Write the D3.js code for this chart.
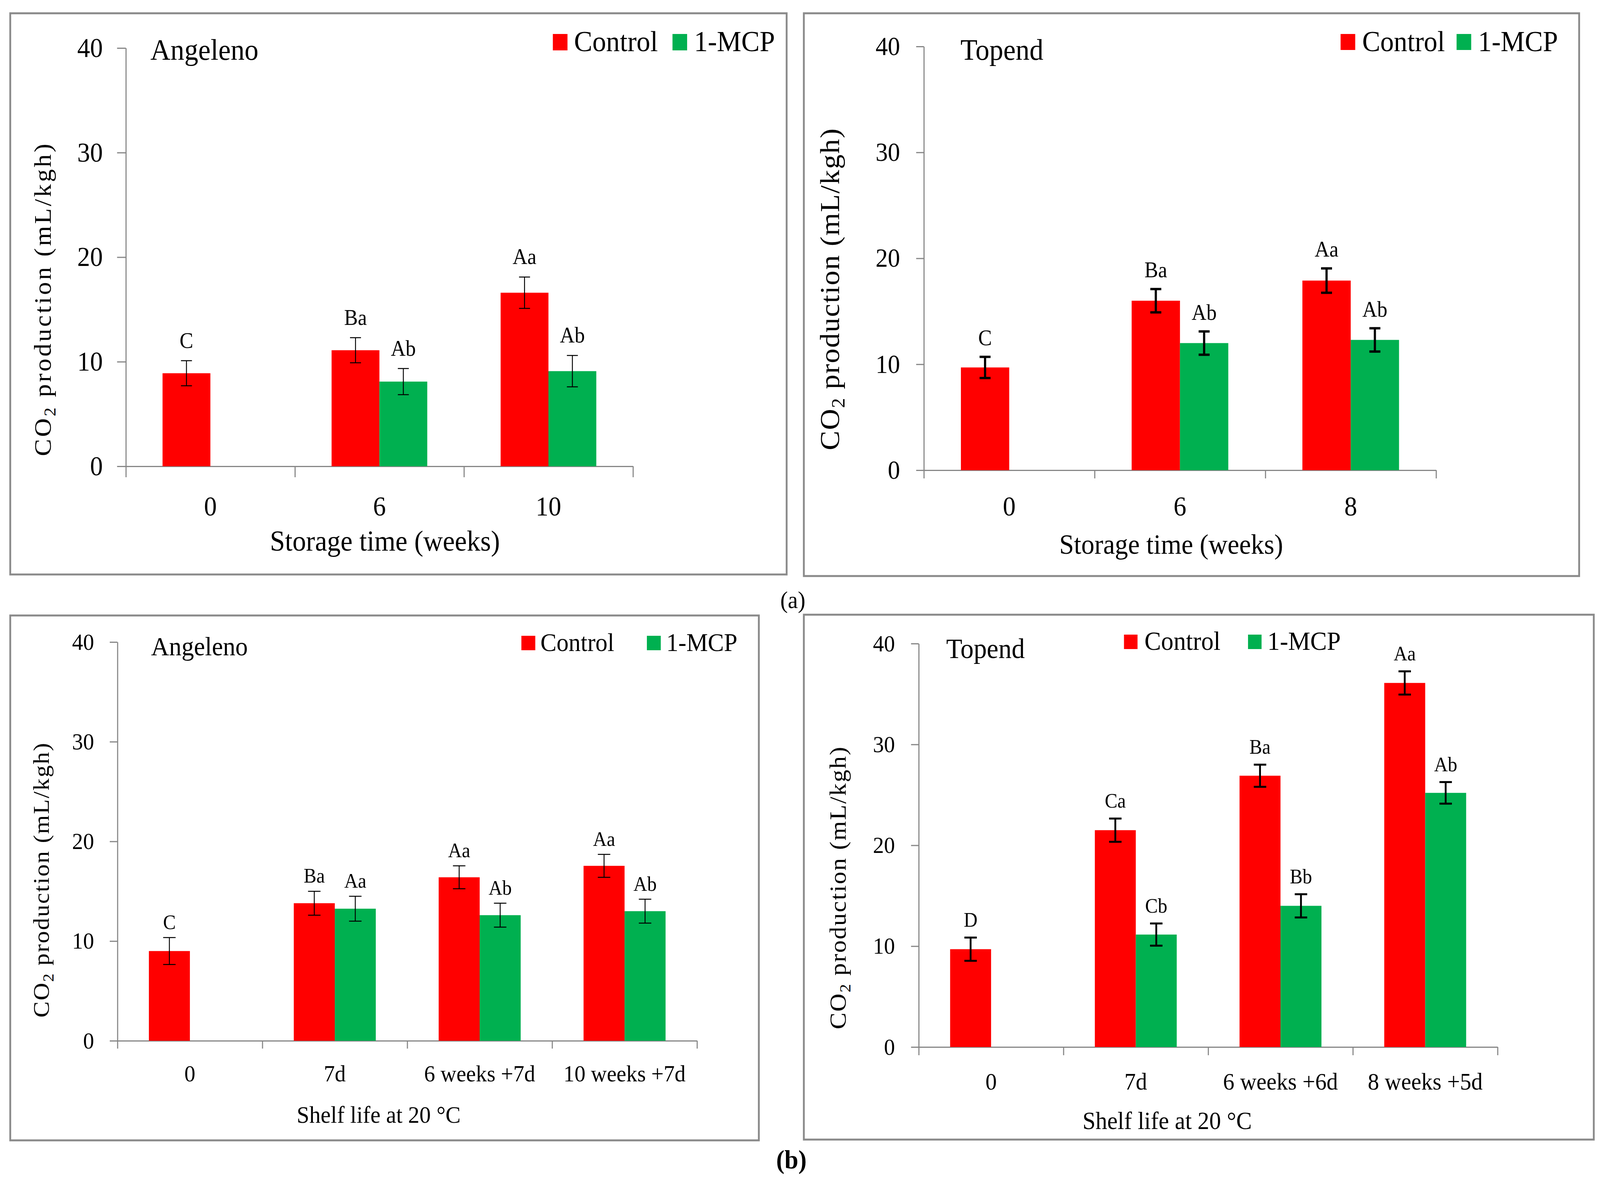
<!DOCTYPE html>
<html>
<head>
<meta charset="utf-8">
<script src="https://d3js.org/d3.v7.min.js"></script>
<style>
  html, body { margin: 0; padding: 0; background: #fff; overflow: hidden; }
  svg { display: block; width: 100vw; height: 100vh; }
</style>
</head>
<body>
<svg id="chart" viewBox="0 0 4373 3042" preserveAspectRatio="none"></svg>
<script>
const FONT = "'Liberation Serif', 'Times New Roman', serif";

const seriesNames = ["Control", "1-MCP"];
const seriesColors = ["#ff0000", "#00b050"];
const yTicks = [0, 10, 20, 30, 40];

// (a) storage, Angeleno
const catsA1 = ["0", "6", "10"];
const ctrlA1 = [8.9, 11.1, 16.6];
const ctrlErrA1 = [1.2, 1.2, 1.5];
const mcpA1 = [null, 8.1, 9.1];
const mcpErrA1 = [null, 1.25, 1.5];
const ctrlLabA1 = ["C", "Ba", "Aa"];
const mcpLabA1 = [null, "Ab", "Ab"];

// (a) storage, Topend
const catsA2 = ["0", "6", "8"];
const ctrlA2 = [9.7, 16.0, 17.9];
const ctrlErrA2 = [1.0, 1.1, 1.15];
const mcpA2 = [null, 12.0, 12.3];
const mcpErrA2 = [null, 1.1, 1.1];
const ctrlLabA2 = ["C", "Ba", "Aa"];
const mcpLabA2 = [null, "Ab", "Ab"];

// (b) shelf life, Angeleno
const catsB1 = ["0", "7d", "6 weeks +7d", "10 weeks +7d"];
const ctrlB1 = [9.0, 13.8, 16.4, 17.55];
const ctrlErrB1 = [1.35, 1.2, 1.15, 1.15];
const mcpB1 = [null, 13.25, 12.6, 13.0];
const mcpErrB1 = [null, 1.25, 1.2, 1.2];
const ctrlLabB1 = ["C", "Ba", "Aa", "Aa"];
const mcpLabB1 = [null, "Aa", "Ab", "Ab"];

// (b) shelf life, Topend
const catsB2 = ["0", "7d", "6 weeks +6d", "8 weeks +5d"];
const ctrlB2 = [9.7, 21.5, 26.9, 36.1];
const ctrlErrB2 = [1.15, 1.15, 1.1, 1.15];
const mcpB2 = [null, 11.15, 14.0, 25.2];
const mcpErrB2 = [null, 1.1, 1.15, 1.07];
const ctrlLabB2 = ["D", "Ca", "Ba", "Aa"];
const mcpLabB2 = [null, "Cb", "Bb", "Ab"];

const panels = [
  { cats: catsA1, vals: [ctrlA1, mcpA1], errs: [ctrlErrA1, mcpErrA1], labs: [ctrlLabA1, mcpLabA1],
    name: "Angeleno", xTitle: "Storage time (weeks)",
    box: [28, 34, 2150, 1471], x0: 344, x1: 1730, yTop: 123, yBot: 1194,
    yTickLen: 24, yTickPad: 39, yTickFont: 70, xTickLen: 28, xLabBase: 1320, xTickFont: 70,
    xTitleX: 1052, xTitleBase: 1410, xTitleFont: 74,
    yTitleX: 119, yTitleY: 768, yTitleLen: 800, yTitleFont: 66,
    nameX: 411, nameBase: 153, nameFont: 76,
    legSqX: [1511, 1838], legSqY: 87, legSq: [40, 42], legTextX: [1569, 1897], legBase: 131, legFont: 75,
    labFont: 56, labGap: 33, errWidth: 2.5, capW: 30 },
  { cats: catsA2, vals: [ctrlA2, mcpA2], errs: [ctrlErrA2, mcpErrA2], labs: [ctrlLabA2, mcpLabA2],
    name: "Topend", xTitle: "Storage time (weeks)",
    box: [2197, 34, 4316, 1475], x0: 2525, x1: 3925, yTop: 119, yBot: 1204,
    yTickLen: 21, yTickPad: 44, yTickFont: 67, xTickLen: 21, xLabBase: 1320, xTickFont: 70,
    xTitleX: 3201, xTitleBase: 1418, xTitleFont: 72,
    yTitleX: 2271, yTitleY: 741, yTitleLen: 824, yTitleFont: 75,
    nameX: 2625, nameBase: 153, nameFont: 76,
    legSqX: [3664, 3981], legSqY: 87, legSq: [40, 41], legTextX: [3723, 4040], legBase: 131, legFont: 74,
    labFont: 56, labGap: 30, errWidth: 6, capW: 30 },
  { cats: catsB1, vals: [ctrlB1, mcpB1], errs: [ctrlErrB1, mcpErrB1], labs: [ctrlLabB1, mcpLabB1],
    name: "Angeleno", xTitle: "Shelf life at 20 °C",
    box: [28, 1576, 2074, 2920], x0: 321, x1: 1905, yTop: 1644, yBot: 2665,
    yTickLen: 21, yTickPad: 43, yTickFont: 60, xTickLen: 20, xLabBase: 2769, xTickFont: 60,
    xTitleX: 1035, xTitleBase: 2875, xTitleFont: 62,
    yTitleX: 115, yTitleY: 2254, yTitleLen: 703, yTitleFont: 62,
    nameX: 413, nameBase: 1678, nameFont: 68,
    legSqX: [1425, 1768], legSqY: 1628, legSq: [38, 37], legTextX: [1477, 1821], legBase: 1667, legFont: 66,
    labFont: 52, labGap: 22, errWidth: 2.5, capW: 34 },
  { cats: catsB2, vals: [ctrlB2, mcpB2], errs: [ctrlErrB2, mcpErrB2], labs: [ctrlLabB2, mcpLabB2],
    name: "Topend", xTitle: "Shelf life at 20 °C",
    box: [2197, 1574, 4356, 2918], x0: 2511, x1: 4093, yTop: 1648, yBot: 2681,
    yTickLen: 21, yTickPad: 44, yTickFont: 60, xTickLen: 21, xLabBase: 2790, xTickFont: 62,
    xTitleX: 3190, xTitleBase: 2891, xTitleFont: 64,
    yTitleX: 2292, yTitleY: 2274, yTitleLen: 723, yTitleFont: 64,
    nameX: 2586, nameBase: 1685, nameFont: 72,
    legSqX: [3072, 3411], legSqY: 1625, legSq: [37, 37], legTextX: [3128, 3464], legBase: 1664, legFont: 68,
    labFont: 52, labGap: 28, errWidth: 5, capW: 34 }
];

const svg = d3.select("#chart");
svg.append("rect").attr("width", 4373).attr("height", 3042).attr("fill", "#fff");

function styleAxis(a, fs) {
  a.attr("font-family", FONT).attr("font-size", fs);
  a.selectAll(".domain, .tick line").attr("stroke", "#868686").attr("stroke-width", 3);
  a.selectAll("text").attr("fill", "#000");
}

function drawPanel(p) {
  const g = svg.append("g");
  const [bx0, by0, bx1, by1] = p.box;
  g.append("rect")
    .attr("x", bx0).attr("y", by0)
    .attr("width", bx1 - bx0).attr("height", by1 - by0)
    .attr("fill", "none").attr("stroke", "#8a8a8a").attr("stroke-width", 5);

  const y = d3.scaleLinear().domain([0, 40]).range([p.yBot, p.yTop]);
  const xb = d3.scaleBand().domain(p.cats).range([p.x0, p.x1]).padding(0);
  const xEdge = d3.scaleLinear().domain([0, p.cats.length]).range([p.x0, p.x1]);

  // y axis
  const ya = g.append("g").attr("transform", `translate(${p.x0},0)`)
    .call(d3.axisLeft(y).tickValues(yTicks).tickSize(p.yTickLen).tickSizeOuter(0).tickPadding(p.yTickPad));
  styleAxis(ya, p.yTickFont);

  // x axis with ticks between categories
  const xa = g.append("g").attr("transform", `translate(0,${p.yBot})`)
    .call(d3.axisBottom(xEdge).tickValues(d3.range(p.cats.length + 1)).tickSize(p.xTickLen).tickSizeOuter(0).tickFormat(""));
  styleAxis(xa, p.xTickFont);

  // category labels
  const xl = g.append("g").attr("transform", `translate(0,${p.yBot})`)
    .call(d3.axisBottom(xb).tickSize(0));
  xl.select(".domain").remove();
  styleAxis(xl, p.xTickFont);
  xl.selectAll("text").attr("y", p.xLabBase - p.yBot).attr("dy", 0);

  // bars, error bars, letters
  const bw = xb.bandwidth() * 0.283;
  [0, 1].forEach(s => {
    const rows = p.cats.map((c, i) => ({
      cat: c, v: p.vals[s][i], e: p.errs[s][i], lab: p.labs[s][i]
    })).filter(d => d.v !== null);
    const cx = d => xb(d.cat) + xb.bandwidth() / 2 + (s === 0 ? -bw / 2 : bw / 2);

    g.append("g").selectAll("rect").data(rows).join("rect")
      .attr("x", d => cx(d) - bw / 2)
      .attr("y", d => y(d.v))
      .attr("width", bw)
      .attr("height", d => p.yBot - y(d.v))
      .attr("fill", seriesColors[s]);

    const eb = g.append("g").attr("stroke", "#000").attr("stroke-width", p.errWidth);
    eb.selectAll("line.v").data(rows).join("line").attr("class", "v")
      .attr("x1", cx).attr("x2", cx)
      .attr("y1", d => y(d.v + d.e)).attr("y2", d => y(d.v - d.e));
    eb.selectAll("line.t").data(rows).join("line").attr("class", "t")
      .attr("x1", d => cx(d) - p.capW / 2).attr("x2", d => cx(d) + p.capW / 2)
      .attr("y1", d => y(d.v + d.e)).attr("y2", d => y(d.v + d.e));
    eb.selectAll("line.b").data(rows).join("line").attr("class", "b")
      .attr("x1", d => cx(d) - p.capW / 2).attr("x2", d => cx(d) + p.capW / 2)
      .attr("y1", d => y(d.v - d.e)).attr("y2", d => y(d.v - d.e));

    g.append("g").selectAll("text").data(rows).join("text")
      .attr("x", cx)
      .attr("y", d => y(d.v + d.e) - p.labGap)
      .attr("text-anchor", "middle")
      .attr("font-family", FONT).attr("font-size", p.labFont)
      .text(d => d.lab);
  });

  // cultivar name
  g.append("text").attr("x", p.nameX).attr("y", p.nameBase)
    .attr("font-family", FONT).attr("font-size", p.nameFont).text(p.name);

  // legend
  seriesNames.forEach((n, i) => {
    g.append("rect").attr("x", p.legSqX[i]).attr("y", p.legSqY)
      .attr("width", p.legSq[0]).attr("height", p.legSq[1]).attr("fill", seriesColors[i]);
    g.append("text").attr("x", p.legTextX[i]).attr("y", p.legBase)
      .attr("font-family", FONT).attr("font-size", p.legFont).text(n);
  });

  // x title
  g.append("text").attr("x", p.xTitleX).attr("y", p.xTitleBase)
    .attr("text-anchor", "middle")
    .attr("font-family", FONT).attr("font-size", p.xTitleFont).text(p.xTitle);

  // y title with subscript
  const fs = p.yTitleFont;
  const yt = g.append("text")
    .attr("transform", `translate(${p.yTitleX + 0.3 * fs},${p.yTitleY}) rotate(-90)`)
    .attr("text-anchor", "middle")
    .attr("font-family", FONT).attr("font-size", fs)
    .attr("textLength", p.yTitleLen).attr("lengthAdjust", "spacing");
  yt.append("tspan").text("CO");
  yt.append("tspan").text("2").attr("font-size", fs * 0.68).attr("dy", fs * 0.2);
  yt.append("tspan").text(" production (mL/kgh)").attr("dy", -fs * 0.2);
}

panels.forEach(drawPanel);

// sub-figure captions
svg.append("text").attr("x", 2167).attr("y", 1557).attr("text-anchor", "middle")
  .attr("font-family", FONT).attr("font-size", 62).text("(a)");
svg.append("text").attr("x", 2163).attr("y", 2992).attr("text-anchor", "middle")
  .attr("font-family", FONT).attr("font-size", 68).attr("font-weight", "bold").text("(b)");
</script>
</body>
</html>
